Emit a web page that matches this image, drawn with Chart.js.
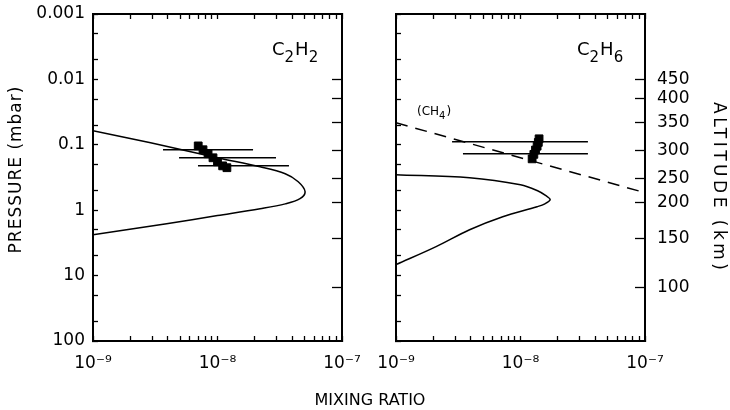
<!DOCTYPE html>
<html>
<head>
<meta charset="utf-8">
<script src="https://cdn.jsdelivr.net/npm/chart.js@4.4.1/dist/chart.umd.min.js"></script>
<style>
  body { margin: 0; background: #fff; }
  #wrap { position: relative; width: 730px; height: 410px; overflow: hidden; }
  canvas { position: absolute; top: 0; }
  #left { left: 0; }
  #right { left: 365px; }
  #xtitle { position: absolute; left: 0; width: 740px; top: 390px; line-height: 16px;
            text-align: center; font: 16px "DejaVu Sans"; color: #000; }
</style>
</head>
<body>
<div id="wrap">
  <canvas id="left" width="365" height="410"></canvas>
  <canvas id="right" width="365" height="410"></canvas>
  <div id="xtitle">MIXING RATIO</div>
</div>
<script>
// tick values and labels
const mixDecades = [1e-9, 1e-8, 1e-7];
const mixLabels = ["10⁻⁹", "10⁻⁸", "10⁻⁷"];
const pressureDecades = [0.001, 0.01, 0.1, 1, 10, 100];
const pressureLabels = ["0.001", "0.01", "0.1", "1", "10", "100"];
const altitudeKm = [100, 150, 200, 250, 300, 350, 400, 450];
const altitudePressure = [15.2, 2.72, 0.77, 0.33, 0.123, 0.046, 0.0199, 0.0102];

// C2H2 model profile
const c2h2Mix = [1e-9, 2.9e-9, 1.0e-8, 2.2e-8, 3.5e-8, 4.45e-8, 5.05e-8, 4.6e-8, 3.5e-8, 2.2e-8, 1.0e-8, 3.9e-9, 1e-9];
const c2h2Pres = [0.061, 0.093, 0.158, 0.217, 0.277, 0.367, 0.52, 0.667, 0.80, 0.95, 1.21, 1.61, 2.37];
// C2H2 retrievals
const c2h2ObsMix = [7.0e-9, 7.65e-9, 8.4e-9, 9.2e-9, 1.0e-8, 1.1e-8, 1.19e-8];
const c2h2ObsPres = [0.104, 0.119, 0.137, 0.158, 0.182, 0.21, 0.224];
const c2h2ErrPres = [0.119, 0.158, 0.21];
const c2h2ErrLo = [3.65e-9, 4.91e-9, 6.97e-9];
const c2h2ErrHi = [1.93e-8, 2.95e-8, 3.75e-8];

// C2H6 model profile
const c2h6Mix = [1e-9, 3.9e-9, 1.0e-8, 1.36e-8, 1.6e-8, 1.73e-8, 1.57e-8, 1.36e-8, 7.2e-9, 3.9e-9, 2.1e-9, 1e-9];
const c2h6Pres = [0.287, 0.319, 0.408, 0.50, 0.60, 0.69, 0.80, 0.885, 1.26, 1.99, 3.61, 6.8];
// C2H6 retrievals
const c2h6ObsMix = [1.41e-8, 1.39e-8, 1.36e-8, 1.32e-8, 1.28e-8, 1.24e-8];
const c2h6ObsPres = [0.081, 0.092, 0.105, 0.12, 0.14, 0.164];
const c2h6ErrPres = [0.090, 0.137];
const c2h6ErrLo = [2.82e-9, 3.45e-9];
const c2h6ErrHi = [3.48e-8, 3.48e-8];

// CH4 reference line
const ch4Mix = [1e-9, 1e-7];
const ch4Pres = [0.046, 0.54];

Chart.defaults.font.family = "DejaVu Sans";
Chart.defaults.color = "#000";

const pts = (xs, ys) => xs.map((x, i) => ({ x: x, y: ys[i] }));
const near = (a, b) => Math.abs(Math.log10(a) - Math.log10(b)) < 1e-6;

function decadeTicks(decades, mults) {
  const out = [];
  decades.forEach((d, i) => {
    if (i === decades.length - 1) { out.push(d); return; }
    mults.forEach(m => out.push(+(m * d).toPrecision(4)));
  });
  return out;
}
const mixTicks = decadeTicks(mixDecades, [1, 2, 3, 4, 5, 6, 7, 8, 9]);
const presTicks = decadeTicks(pressureDecades, [1, 2, 5]);

const border = { display: true, color: "#000", width: 2 };
const marks = len => ({ display: true, drawOnChartArea: false, drawTicks: true,
                        tickLength: len, tickWidth: 1.3, tickColor: "#000" });

// fixed box sizes so both plot frames line up; no extra room for edge labels
function fixSize(s, w, h) {
  if (w !== undefined) s.width = w;
  if (h !== undefined) s.height = h;
  s.paddingTop = s.paddingBottom = s.paddingLeft = s.paddingRight = 0;
}

function xScale(pos, labels) {
  return {
    type: "logarithmic", position: pos, min: 1e-9, max: 1e-7,
    border: border, grid: marks(-5),
    afterBuildTicks: s => { s.ticks = mixTicks.map(v => ({ value: v })); },
    afterFit: s => fixSize(s, undefined, pos === "bottom" ? 69 : 14),
    ticks: {
      display: labels, autoSkip: false, maxRotation: 0, padding: 17,
      font: { size: 17 },
      callback: v => {
        const i = mixDecades.findIndex(d => near(d, v));
        return i >= 0 ? mixLabels[i] : "";
      }
    }
  };
}

function pressureScale(labels, width) {
  return {
    type: "logarithmic", position: "left", reverse: true, min: 0.001, max: 100,
    border: border, grid: marks(-5),
    afterBuildTicks: s => { s.ticks = presTicks.map(v => ({ value: v })); },
    afterFit: s => fixSize(s, width),
    ticks: {
      display: labels, autoSkip: false, padding: 13, font: { size: 17 },
      callback: v => {
        const i = pressureDecades.findIndex(d => near(d, v));
        return i >= 0 ? pressureLabels[i] : "";
      }
    }
  };
}

function altitudeScale(labels, width) {
  return {
    type: "logarithmic", position: "right", reverse: true, min: 0.001, max: 100,
    border: border, grid: marks(-10),
    afterBuildTicks: s => { s.ticks = altitudePressure.map(v => ({ value: v })); },
    afterFit: s => fixSize(s, width),
    ticks: {
      display: labels, autoSkip: false, padding: 22, font: { size: 17 },
      callback: (v, i) => String(altitudeKm[i])
    }
  };
}

// molecule names with lowered digits, and the rotated side titles
const panelText = {
  id: "panelText",
  afterDatasetsDraw(chart, args, opts) {
    const { ctx, chartArea } = chart;
    (opts.items || []).forEach(item => {
      let x = chartArea.left + item.dx;
      const y = chartArea.top + item.dy;
      ctx.save();
      ctx.fillStyle = "#000";
      ctx.textBaseline = "alphabetic";
      item.parts.forEach(([t, sub]) => {
        ctx.font = (sub ? item.sub : item.size) + 'px "DejaVu Sans"';
        ctx.fillText(t, x, sub ? y + item.drop : y);
        x += ctx.measureText(t).width + (sub ? 1 : 0);
      });
      ctx.restore();
    });
    (opts.titles || []).forEach(t => {
      ctx.save();
      ctx.fillStyle = "#000";
      ctx.font = t.size + 'px "DejaVu Sans"';
      ctx.letterSpacing = t.spacing + "px";
      ctx.textAlign = "center";
      ctx.textBaseline = "middle";
      ctx.translate(t.x, t.y);
      ctx.rotate(t.angle * Math.PI / 180);
      ctx.fillText(t.text, t.spacing / 2, 0);
      ctx.restore();
    });
  }
};

function errorBars(ps, lo, hi) {
  return ps.map((p, i) => ({
    data: [{ x: lo[i], y: p }, { x: hi[i], y: p }],
    showLine: true, borderColor: "#000", borderWidth: 1.5, pointRadius: 0
  }));
}

function panel(id, opts) {
  return new Chart(document.getElementById(id), {
    type: "scatter",
    data: {
      datasets: [
        {
          data: pts(opts.obsMix, opts.obsPres),
          pointStyle: "rect", pointRadius: 5.5, backgroundColor: "#000", borderColor: "#000"
        },
        ...errorBars(opts.errPres, opts.errLo, opts.errHi),
        {
          data: pts(opts.mix, opts.pres),
          showLine: true, tension: 0.35, borderColor: "#000", borderWidth: 1.5, pointRadius: 0
        },
        ...(opts.extra || [])
      ]
    },
    options: {
      responsive: false,
      animation: false,
      layout: { padding: 0 },
      plugins: {
        legend: { display: false },
        tooltip: { enabled: false },
        panelText: { items: opts.labels, titles: opts.titles }
      },
      scales: {
        x: xScale("bottom", true),
        xTop: xScale("top", false),
        y: pressureScale(opts.pressureLabels, opts.leftWidth),
        yAlt: altitudeScale(opts.altitudeLabels, opts.rightWidth)
      }
    },
    plugins: [panelText]
  });
}

panel("left", {
  mix: c2h2Mix, pres: c2h2Pres,
  obsMix: c2h2ObsMix, obsPres: c2h2ObsPres,
  errPres: c2h2ErrPres, errLo: c2h2ErrLo, errHi: c2h2ErrHi,
  pressureLabels: true, altitudeLabels: false, leftWidth: 93, rightWidth: 23,
  labels: [
    { dx: 179, dy: 41, size: 18, sub: 15, drop: 7, parts: [["C"], ["2", true], ["H"], ["2", true]] }
  ],
  titles: [
    { text: "PRESSURE (mbar)", x: 17, y: 170, angle: -90, size: 17, spacing: 1 }
  ]
});

panel("right", {
  mix: c2h6Mix, pres: c2h6Pres,
  obsMix: c2h6ObsMix, obsPres: c2h6ObsPres,
  errPres: c2h6ErrPres, errLo: c2h6ErrLo, errHi: c2h6ErrHi,
  pressureLabels: false, altitudeLabels: true, leftWidth: 31, rightWidth: 85,
  extra: [{
    data: pts(ch4Mix, ch4Pres),
    showLine: true, borderColor: "#000", borderWidth: 1.5, borderDash: [12, 8], pointRadius: 0
  }],
  labels: [
    { dx: 181, dy: 41, size: 18, sub: 15, drop: 7, parts: [["C"], ["2", true], ["H"], ["6", true]] },
    { dx: 21, dy: 101, size: 12, sub: 10, drop: 4, parts: [["(CH"], ["4", true], [")"]] }
  ],
  titles: [
    { text: "ALTITUDE (km)", x: 353, y: 186, angle: 90, size: 17, spacing: 3.5 }
  ]
});
</script>
</body>
</html>
